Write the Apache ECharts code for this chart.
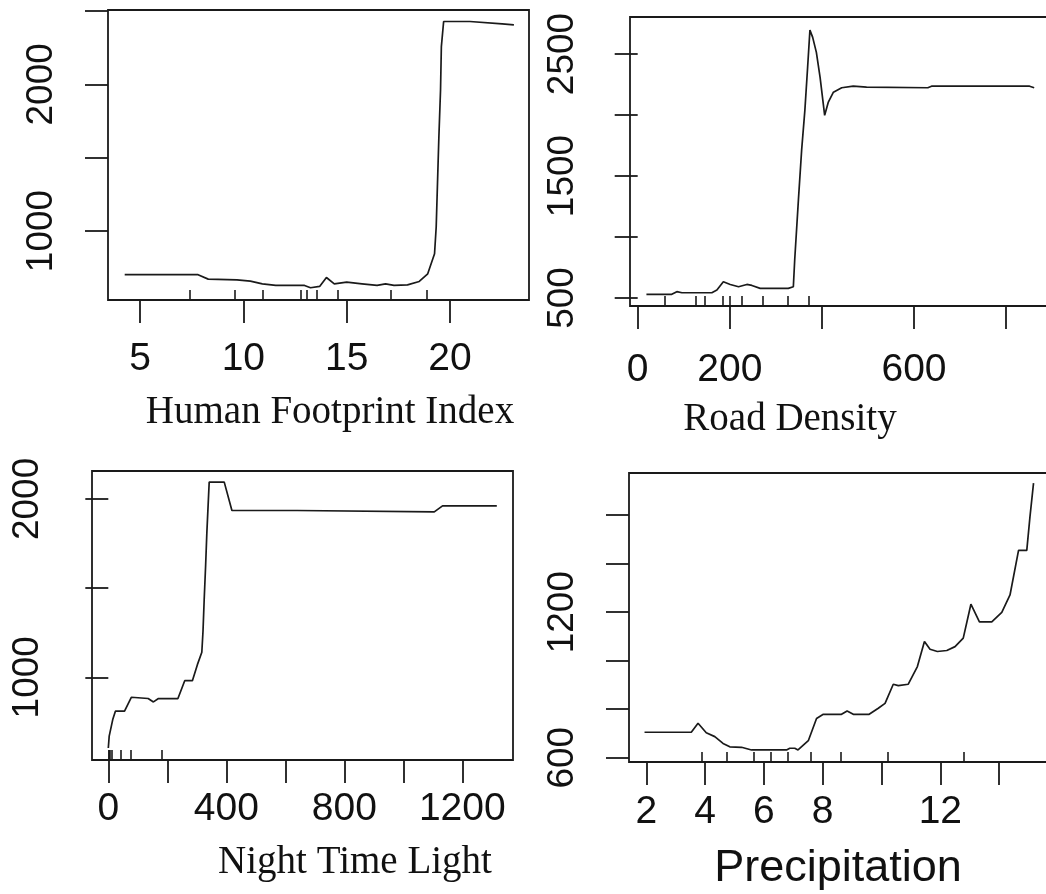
<!DOCTYPE html>
<html>
<head>
<meta charset="utf-8">
<script src="https://cdn.jsdelivr.net/npm/echarts@6/dist/echarts.min.js"></script>
<style>
html,body{margin:0;padding:0;background:#fff;}
#chart{width:1046px;height:894px;}
</style>
</head>
<body>
<div id="chart"></div>
<script>
// ---------- Panel 1: Human Footprint Index ----------
const hfiX = [4.26, 7.81, 8.30, 9.69, 10.34, 10.92, 11.57, 12.96, 13.25, 13.69, 14.02, 14.40, 15.00, 15.74, 16.47, 16.88, 17.29, 17.94, 18.51, 18.92, 19.25, 19.33, 19.46, 19.54, 19.58, 19.69, 20.96, 21.01, 22.52, 22.60, 23.09];
const hfiY = [702, 702, 672, 667, 658, 640, 629, 629, 613, 622, 683, 640, 651, 640, 629, 640, 629, 633, 656, 708, 845, 1027, 1642, 1961, 2257, 2428, 2428, 2417, 2412, 2405, 2405];
const hfiXTicks = [5, 10, 15, 20];
const hfiYTicks = [1000, 1500, 2000, 2500];
const hfiYLabels = [1000, 2000];
const hfiRug = [7.43, 9.6, 10.95, 12.76, 13.05, 13.56, 14.56, 17.14, 18.87];

// ---------- Panel 2: Road Density ----------
const roadX = [19, 74, 85, 96, 161, 172, 186, 201, 219, 237, 248, 266, 327, 338, 341, 349, 356, 363, 369, 374, 380, 388, 396, 406, 414, 425, 443, 468, 497, 500, 630, 638, 851, 861];
const roadY = [530, 530, 552, 543, 543, 565, 633, 611, 592, 611, 603, 579, 579, 592, 815, 1304, 1712, 2038, 2391, 2695, 2636, 2513, 2310, 1997, 2106, 2187, 2223, 2236, 2228, 2223, 2223, 2236, 2236, 2223];
const roadXTicks = [0, 200, 400, 600, 800];
const roadXLabels = [0, 200, 600];
const roadYTicks = [500, 1000, 1500, 2000, 2500];
const roadYLabels = [500, 1500, 2500];
const roadRug = [57.8, 126, 145.5, 183.7, 199.8, 227, 271.4, 326.4, 371.3];

// ---------- Panel 3: Night Time Light ----------
const ntlX = [0, 3, 15, 24, 55, 78, 135, 153, 170, 236, 259, 285, 302, 317, 321, 325, 330, 334, 342, 393, 419, 640, 646, 1105, 1133, 1317];
const ntlY = [604, 670, 763, 810, 810, 888, 881, 862, 881, 881, 981, 981, 1071, 1140, 1258, 1435, 1631, 1808, 2094, 2094, 1935, 1935, 1927, 1927, 1961, 1961];
const ntlXTicks = [0, 200, 400, 600, 800, 1000, 1200];
const ntlXLabels = [0, 400, 800, 1200];
const ntlYTicks = [1000, 1500, 2000];
const ntlYLabels = [1000, 2000];
const ntlRug = [0, 3, 6, 10, 42, 76, 182];

// ---------- Panel 4: Precipitation ----------
const preX = [1.94, 3.53, 3.76, 4.04, 4.33, 4.61, 4.84, 5.24, 5.58, 6.77, 6.88, 7.05, 7.16, 7.51, 7.79, 8.02, 8.64, 8.83, 9.04, 9.58, 9.89, 10.12, 10.40, 10.57, 10.91, 11.22, 11.46, 11.65, 11.90, 12.22, 12.50, 12.78, 13.04, 13.33, 13.75, 14.09, 14.37, 14.66, 14.94, 15.05, 15.17];
const preY = [705, 705, 742, 703, 687, 659, 645, 643, 632, 632, 639, 639, 632, 670, 762, 779, 779, 793, 779, 779, 804, 824, 903, 897, 903, 976, 1079, 1047, 1038, 1042, 1058, 1093, 1233, 1160, 1160, 1199, 1271, 1455, 1455, 1595, 1732];
const preXTicks = [2, 4, 6, 8, 10, 12, 14];
const preXLabels = [2, 4, 6, 8, 12];
const preYTicks = [600, 800, 1000, 1200, 1400, 1600];
const preYLabels = [600, 1200];
const preRug = [3.88, 4.74, 5.65, 6.22, 6.82, 7.58, 8.63, 10.2, 12.78];

const titles = ['Human Footprint Index', 'Road Density', 'Night Time Light', 'Precipitation'];

// ---------- layout ----------
const INK = '#1a1a1a';
const SANS = '"Liberation Sans", Arial, sans-serif';
const SERIF = '"Liberation Serif", "Times New Roman", serif';
const plain = v => String(Math.round(v));

const panels = [
  {x: hfiX, y: hfiY, xt: hfiXTicks, xl: hfiXTicks, yt: hfiYTicks, yl: hfiYLabels, rug: hfiRug,
   grid: {left: 108, top: 10, width: 421, height: 290}, xr: [3.452, 23.82], yr: [529.7, 2506.5],
   xMargin: 59, yMargin: 66, title: {x: 330, y: 413, font: SERIF, size: 39}},
  {x: roadX, y: roadY, xt: roadXTicks, xl: roadXLabels, yt: roadYTicks, yl: roadYLabels, rug: roadRug,
   grid: {left: 630, top: 17, width: 420, height: 289}, xr: [-16.7, 895.3], yr: [434.4, 2803],
   xMargin: 64, yMargin: 67, title: {x: 790, y: 420, font: SERIF, size: 39}},
  {x: ntlX, y: ntlY, xt: ntlXTicks, xl: ntlXLabels, yt: ntlYTicks, yl: ntlYLabels, rug: ntlRug,
   grid: {left: 92, top: 471, width: 421, height: 289}, xr: [-55.3, 1371.9], yr: [536.4, 2156.4],
   xMargin: 49, yMargin: 64, title: {x: 355, y: 863, font: SERIF, size: 39}},
  {x: preX, y: preY, xt: preXTicks, xl: preXLabels, yt: preYTicks, yl: preYLabels, rug: preRug,
   grid: {left: 629, top: 473, width: 421, height: 289}, xr: [1.412, 15.73], yr: [582.3, 1774],
   xMargin: 50, yMargin: 66, title: {x: 838, y: 869, font: SANS, size: 45}}
];

const grids = [], xAxes = [], yAxes = [], series = [], graphics = [];
panels.forEach((p, i) => {
  grids.push(Object.assign({show: true, borderColor: INK, borderWidth: 1.8, backgroundColor: 'transparent',
    containLabel: false, outerBoundsMode: 'none'}, p.grid));
  // main x axis
  xAxes.push({
    type: 'value', gridIndex: i, position: 'bottom', min: p.xr[0], max: p.xr[1],
    axisLine: {show: false}, splitLine: {show: false},
    axisTick: {show: true, inside: false, length: 23, customValues: p.xt, lineStyle: {color: INK, width: 1.8}},
    axisLabel: {show: true, customValues: p.xl, margin: p.xMargin, verticalAlign: 'middle', align: 'center',
      color: '#111', fontSize: 39, fontFamily: SANS, formatter: plain}
  });
  // rug axis
  xAxes.push({
    type: 'value', gridIndex: i, position: 'bottom', min: p.xr[0], max: p.xr[1],
    axisLine: {show: false}, splitLine: {show: false},
    axisTick: {show: true, inside: true, length: 10, customValues: p.rug, lineStyle: {color: INK, width: 1.6}},
    axisLabel: {show: false}
  });
  yAxes.push({
    type: 'value', gridIndex: i, position: 'left', min: p.yr[0], max: p.yr[1],
    axisLine: {show: false}, splitLine: {show: false},
    axisTick: {show: true, inside: false, length: 23, customValues: p.yt, lineStyle: {color: INK, width: 1.8}},
    axisLabel: {show: true, customValues: p.yl, rotate: 90, margin: p.yMargin, align: 'center', verticalAlign: 'middle',
      color: '#111', fontSize: 37, fontFamily: SANS, formatter: plain}
  });
  series.push({
    type: 'line', xAxisIndex: 2 * i, yAxisIndex: i,
    data: p.x.map((v, k) => [v, p.y[k]]),
    showSymbol: false, symbol: 'none', smooth: false,
    lineStyle: {color: INK, width: 1.7}, animation: false, silent: true
  });
  graphics.push({
    type: 'text', x: p.title.x, y: p.title.y,
    style: {text: titles[i], fill: '#111', font: p.title.size + 'px ' + p.title.font,
      align: 'center', verticalAlign: 'middle', textAlign: 'center', textVerticalAlign: 'middle'}
  });
});

const chart = echarts.init(document.getElementById('chart'), null, {renderer: 'canvas'});
chart.setOption({
  backgroundColor: '#fff',
  animation: false,
  grid: grids,
  xAxis: xAxes,
  yAxis: yAxes,
  series: series,
  graphic: graphics
});
</script>
</body>
</html>
